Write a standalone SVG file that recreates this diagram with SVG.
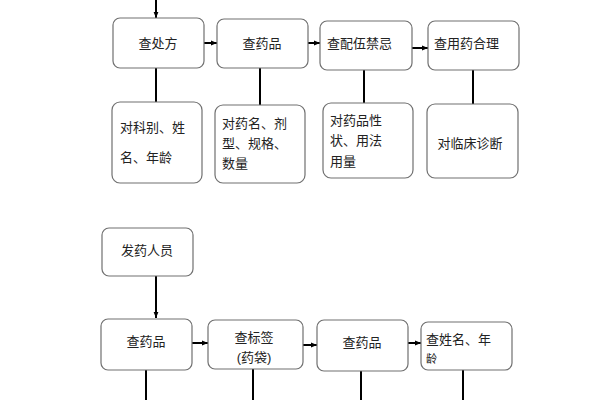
<svg xmlns="http://www.w3.org/2000/svg" width="600" height="400" viewBox="0 0 600 400">
<style>
.box{fill:#fff;stroke:#707070;stroke-width:1.2}
.t{font-family:"Liberation Sans","Noto Sans CJK SC",sans-serif;font-size:13px;fill:#222}
.c{text-anchor:middle}
.ln{stroke:#000;stroke-width:2;fill:none}
</style>
<defs>
<marker id="ah" viewBox="0 0 10 10" refX="9" refY="5" markerWidth="4" markerHeight="4" orient="auto" markerUnits="userSpaceOnUse">
<path d="M0,0 L10,5 L0,10 z" fill="#000"/>
</marker>
<marker id="a" viewBox="0 0 10 10" refX="10" refY="5" markerWidth="6" markerHeight="6" orient="auto" markerUnits="userSpaceOnUse">
<path d="M0,1 L10,5 L0,9 z" fill="#000"/>
</marker>
</defs>
<g id="connectors">
<line class="ln" x1="156" y1="0" x2="156" y2="18" marker-end="url(#a)"/>
<line class="ln" x1="204" y1="43" x2="217" y2="43" marker-end="url(#a)"/>
<line class="ln" x1="308" y1="43" x2="320" y2="43" marker-end="url(#a)"/>
<line class="ln" x1="412" y1="48" x2="428" y2="48" marker-end="url(#a)"/>
<line class="ln" x1="156" y1="68" x2="156" y2="102"/>
<line class="ln" x1="260" y1="68" x2="260" y2="105"/>
<line class="ln" x1="364" y1="70" x2="364" y2="103"/>
<line class="ln" x1="473" y1="70" x2="473" y2="104"/>
<line class="ln" x1="156" y1="276" x2="156" y2="318" marker-end="url(#a)"/>
<line class="ln" x1="192" y1="343" x2="208" y2="343" marker-end="url(#a)"/>
<line class="ln" x1="303" y1="345" x2="317" y2="345" marker-end="url(#a)"/>
<line class="ln" x1="408" y1="343" x2="421" y2="343" marker-end="url(#a)"/>
<line class="ln" x1="146" y1="370" x2="146" y2="400"/>
<line class="ln" x1="253" y1="369" x2="253" y2="400"/>
<line class="ln" x1="361" y1="371" x2="361" y2="400"/>
<line class="ln" x1="463" y1="370" x2="463" y2="400"/>
</g>
<g id="n1"><rect class="box" x="113" y="18" width="91" height="50" rx="7"/><text class="t c" x="158" y="48">查处方</text></g>
<g id="n2"><rect class="box" x="217" y="19" width="91" height="49" rx="7"/><text class="t c" x="262" y="48">查药品</text></g>
<g id="n3"><rect class="box" x="320" y="21" width="92" height="49" rx="7"/><text class="t" x="327" y="48">查配伍禁忌</text></g>
<g id="n4"><rect class="box" x="428" y="21" width="91" height="49" rx="7"/><text class="t" x="434" y="48">查用药合理</text></g>
<g id="d1"><rect class="box" x="112" y="102" width="90" height="81" rx="8"/><text class="t" x="120" y="132">对科别、姓</text><text class="t" x="120" y="162">名、年龄</text></g>
<g id="d2"><rect class="box" x="215" y="105" width="90" height="78" rx="8"/><text class="t" x="222" y="128">对药名、剂</text><text class="t" x="222" y="148">型、规格、</text><text class="t" x="222" y="168">数量</text></g>
<g id="d3"><rect class="box" x="323" y="103" width="90" height="75" rx="8"/><text class="t" x="330" y="125">对药品性</text><text class="t" x="330" y="145">状、用法</text><text class="t" x="330" y="166">用量</text></g>
<g id="d4"><rect class="box" x="427" y="104" width="91" height="74" rx="8"/><text class="t c" x="470" y="148">对临床诊断</text></g>
<g id="m0"><rect class="box" x="102" y="228" width="91" height="48" rx="7"/><text class="t c" x="147" y="255">发药人员</text></g>
<g id="b1"><rect class="box" x="101" y="319" width="91" height="51" rx="7"/><text class="t c" x="146" y="346">查药品</text></g>
<g id="b2"><rect class="box" x="208" y="320" width="95" height="49" rx="7"/><text class="t c" x="254" y="342">查标签</text><text class="t c" x="254" y="362">(药袋)</text></g>
<g id="b3"><rect class="box" x="317" y="320" width="91" height="51" rx="7"/><text class="t c" x="362" y="347">查药品</text></g>
<g id="b4"><rect class="box" x="421" y="322" width="91" height="48" rx="7"/><text class="t" x="426" y="344">查姓名、年</text><text class="t" x="426" y="363" style="font-size:11px">龄</text></g>
</svg>
